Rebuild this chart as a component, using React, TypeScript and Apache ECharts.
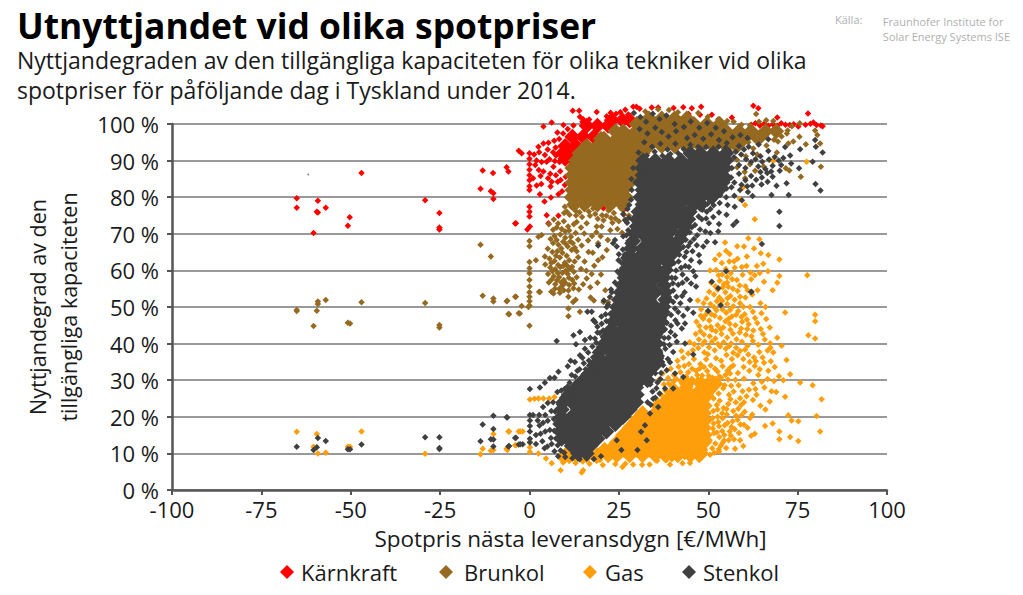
import React, { useEffect, useRef } from "react";
import * as echarts from "echarts";

type P = [number, number];
type Row = [number, number[]];

const seriesNames = ["Kärnkraft", "Brunkol", "Gas", "Stenkol"];
const xMin = -100, xMax = 100, xStep = 25;
const yMin = 0, yMax = 100, yStep = 10;

// Solid, overplotted parts of each cloud: [y, [x, x, ...]]
const karnkraftCore: Row[] = [
  [90.5, [10, 12]], [92, [9.3, 12]], [94, [10, 13]], [96.5, [12, 15, 18]],
  [99.5, [16, 19, 22]], [101, [23, 26, 28]],
];
const brunkolCore: Row[] = [
  [78, [12.5, 15.4, 19, 22.6, 26]], [80, [11.8, 13.6, 17.2, 20.8, 24.4, 27]],
  [82, [12, 15.4, 19, 22.6, 26.2]], [84, [12, 13.6, 17.2, 20.8, 24.4, 28]],
  [86, [12, 15.4, 19, 22.6, 26.2, 30]], [88, [12, 13.6, 17.2, 20.8, 24.4, 28]],
  [90, [13, 15.4, 19, 22.6, 26.2, 29.8]], [92, [14, 17.2, 20.8, 24.4, 28, 31.6]],
  [94, [16, 19, 22.6, 26.2, 29.8, 33.4, 37, 40.6, 44.2, 47.8, 51.4, 55, 58]],
  [96, [20, 20.8, 24.4, 28, 31.6, 35.2, 38.8, 42.4, 46, 49.6, 53.2, 56.8, 60, 64]],
  [98, [24, 26.2, 29.8, 33.4, 37, 40.6, 44.2, 47.8, 51.4, 55, 58.6, 62, 66, 69]],
  [100, [30, 31.6, 35.2, 38.8, 42.4, 46, 49.6, 53.2]],
  [101.5, [33.4, 37, 40.6, 44]],
];
const gasCore: Row[] = [
  [9.5, [10, 13, 16, 19, 22, 24.4, 28, 31.6, 35.2, 38, 41.5, 45, 47.5]],
  [11, [21, 22.6, 26.2, 29.8, 33.4, 37, 40.6, 44.2, 47.8]],
  [13, [24.4, 28, 31.6, 35.2, 38.8, 42.4, 46, 48.8]],
  [15, [26.2, 29.8, 33.4, 37, 40.6, 44.2, 47.8, 49]],
  [17, [28, 31.6, 35.2, 38.8, 42.4, 46, 48.8]],
  [19, [29.8, 33.4, 37, 40.6, 44.2, 47.8, 49]],
  [21, [31.6, 35.2, 38.8, 42.4, 46, 48.8]],
  [23, [36, 37, 40.6, 44.2, 47.8, 49]],
  [25, [38.8, 42.4, 46, 48.8]],
  [27, [40.6, 44.2, 47.8, 50]],
  [29, [44, 48, 52]],
];
const stenkolCore: Row[] = [
  [10, [13.6, 16]], [12, [11.8, 15.4, 17]], [14, [9, 10.6, 13.6, 17.2, 19]],
  [16, [8.6, 11.8, 15.4, 19, 21.5]], [18, [8.6, 10, 13.6, 17.2, 20.8, 24]],
  [20, [9, 11.8, 15.4, 19, 22.6, 26.2]], [22, [9, 13.6, 17.2, 20.8, 24.4, 28]],
  [24, [9.5, 11.8, 15.4, 19, 22.6, 26.2, 29.8]], [26, [11, 13.6, 17.2, 20.8, 24.4, 28, 30]],
  [28, [13, 15.4, 19, 22.6, 26.2, 29.8]], [30, [15, 17.2, 20.8, 24.4, 28, 31, 33]],
  [32, [17, 19, 22.6, 26.2, 29.8, 33]], [34, [18, 20.8, 24.4, 28, 31.6, 35]],
  [36, [19.5, 22.6, 26.2, 29.8, 33.4, 35.5]], [38, [20, 22.5, 24.4, 28, 31.6, 35.2]],
  [40, [21, 23, 26.2, 29.8, 33.4, 35.5]], [42, [22, 24.4, 28, 31.6, 35.2]],
  [44, [23, 26.2, 29.8, 33.4, 36.5]], [46, [23.5, 25.5, 28, 31.6, 35.2, 36.8]],
  [48, [24, 26.2, 29.8, 33.4, 37]], [50, [24.5, 26, 28, 31.6, 35.2, 37.4]],
  [52, [25, 26.2, 29.8, 33.4, 38]], [54, [25.5, 28, 31.6, 35.2, 38]],
  [56, [26, 29.8, 33.4, 37.5]], [58, [26.6, 28, 31.6, 35.2, 37.5]],
  [60, [27, 29.8, 33.4, 36, 38]], [62, [27.6, 29, 31.6, 35.2, 38.8]],
  [64, [28, 31, 33.4, 37, 39.4]], [66, [28.4, 31.6, 35.2, 38, 41]],
  [68, [29, 33.4, 37, 39, 41.5]], [70, [29.4, 31.6, 35.2, 38.8, 42.4]],
  [72, [30, 33.4, 37, 40, 43.5]], [74, [30, 31.6, 35.2, 38.8, 42, 44.4]],
  [76, [30.5, 33.4, 37, 40, 43, 44.8]], [78, [31.6, 35.2, 38.8, 42, 46, 48]],
  [80, [31, 33.4, 37, 40.6, 44, 48, 51]], [82, [31.6, 35.2, 38.8, 42.4, 46, 49.6, 53]],
  [84, [31, 33.4, 37, 40.6, 44.2, 47.8, 51.4, 54]], [86, [31.6, 35.2, 38.8, 42.4, 46, 49.6, 53.2, 54]],
  [88, [31.5, 33.4, 37, 40.6, 44.2, 47.8, 51.4, 54.5]], [90, [31.8, 35.2, 38.8, 42.4, 46, 49.6, 53.2, 55]],
  [92, [45, 47.8, 51.4, 55]],
];

// Individually readable points: [x, y]
const karnkraft: P[] = [
  [-65.1,79.7],[-65.1,77.1],[-59.2,79],[-59.5,76],[-59.2,75.8],[-57,77.1],[-60.4,70.2],[-50.3,74.5],[-50.8,72.2],[-47,86.6],
  [-29.2,79.2],[-25.2,75.7],[-25.2,71.7],[-25.2,71.2],[-13.1,87.3],[-10.2,86.6],[-13.7,82.3],[-10.8,81.6],[-10.1,81.1],[-10.1,79.5],
  [-6.4,88.2],[-5.9,87],[-4,72.8],[-3,92.7],[-2.2,92],[0,92],[0,90.5],[0,89],[0,87.5],[0,86],[0,84.6],[0,83],[0,82],[0,77.4],[0,76],[0,74.7],
  [-0.6,71.2],[0.1,72],[-3.8,72.9],[3.9,99.3],[6.2,100.4],[9.5,99.7],[2.5,93.8],[3.9,94.7],[5.3,94.9],[7.8,97.7],[12.1,103.6],[13.9,103.6],
  [14.1,102],[15,101.3],[18.8,103.3],[2,90],[1.6,88.8],[4.3,91.5],[4.8,89.7],[6.7,88.3],[3.9,87],[3.1,85.8],[2,83.2],[5.9,82.9],[8.7,84.7],[9.9,83.3],
  [2.9,80.8],[4.2,78.8],[8.1,80.8],[4.8,75.1],[5.3,72.9],[8.1,74.9],[20.7,77],[26.3,76.5],[5.8,86.4],[7.4,86],[8.6,87.1],[5.6,90.4],[6.6,92.3],[7.3,93.6],
  [5.1,93],[6.9,95.4],[8.3,95.9],[9.4,97.4],[10.7,98.6],[12.3,99.6],[14.8,100.6],[16.7,101.2],[24.2,102.8],[25.4,103.2],[26.8,103.9],[27.6,102.6],[21.6,102.1],[22.7,103.1],
  [29,104.7],[29.9,104.7],[30.8,104.2],[34.2,104.5],[36,104.5],[40.3,104.4],[43,104.6],[45.4,104.3],[48,104.7],[47.7,102.5],[44.5,102.7],[51,102.5],[56.6,101.8],
  [62.6,105],[64,104.3],[69.3,101.8],[77.9,102.9],[62,99.8],[63.2,100.2],[64.4,99.6],[65.6,100],[66.8,99.5],[68.1,99.9],[69.3,99.5],[70.4,100.2],[71.6,99.8],[72.8,99.7],[73.9,99.9],
  [75.2,99.3],[77.2,99.8],[78.6,100.1],[79.4,100.4],[80.3,99.7],[81.5,99.6],[82,99.4],
  [1,85.2],[1.3,91.7],[2.7,92.3],[3.4,89.6],[2.6,87.4],[5.2,85.2],[6.2,84.2],[7.1,89.9],[7.9,84.2],[9.1,81.6],[10.1,85.6],[6,79.9],[3.3,83.6],[7.4,91.4],[8.4,89.6],
];
const brunkol: P[] = [
  [-65.1,49.2],[-65.1,48.9],[-59.2,51.5],[-59.2,50.8],[-57,51.9],[-59.5,49],[-60.4,44.8],[-50.8,45.7],[-50.2,45.5],[-47,51.3],[-29.2,51.1],[-25.2,45.1],[-25.2,44.4],
  [-13.7,67],[-10.8,63.8],[-13.1,53.1],[-10.1,52.3],[-10.1,51.5],[-6.4,51.6],[-4,52.8],[-5.9,48.1],[-3,48.3],[-6.2,51.7],[-3.8,52.8],[-2.2,50.3],[-0.3,50],[-5.7,48],[-2.7,48.2],[0,44.9],
  [0,68],[0,66.6],[0,62.3],[0,60.6],[0,59.2],[0,57.4],[0,55.6],[0,54],[0,52.8],[0,51.6],[0,50.4],[2.5,69.2],[3.4,69.7],[1.8,62.8],[2.7,54.2],[2.9,54.1],[6.7,53.7],[8.5,53.9],[10.9,52.8],
  [12.2,51.4],[12.9,52],[17.1,52.6],[18,51.8],[20.7,51.4],[22,51.4],[10.9,49.6],[10.9,47.5],[14.1,48.7],[17.9,46.4],
  [5.4,72.6],[6.6,71.1],[8,72.8],[9.6,73.4],[10.8,72],[12.4,72.6],[7,69.4],[8.6,69.8],[10,70.6],[11.6,69.2],[6.6,67.5],[8.1,67],[9.4,67.8],[10.7,66.5],[12.1,67.4],[13.6,68.4],
  [5.1,65.9],[6.4,65],[7.8,65.2],[9.2,64.8],[10.4,64],[11.8,65.6],[13.2,65.2],[4.3,63.8],[5.6,63.2],[7,62.6],[8.5,63.5],[9.9,62.1],[11.1,62.8],[12.6,62.4],[4.4,61.6],[5.8,60.8],[7.2,60.3],
  [8.6,60.9],[10.1,59.9],[11.3,60.4],[12.4,59.6],[5.2,59],[6.8,58.4],[8.3,58.1],[9.6,57.4],[11,58],[5.4,56.7],[7.2,56.2],[9.2,55.8],[11.1,56],[6.1,54.2],[8.3,55],[12.3,55.1],
  [16,72.9],[18.8,72],[20.2,72],[24,74.2],[21.6,65.6],[19.2,67.4],[16.5,65],[18.1,61.3],[16,57.8],[20,58.9],[14.4,71.7],[15.3,70.1],[17.5,69.4],[14.6,66.8],[17.7,64.8],[15.4,62.4],[14.4,60.4],
  [11.2,75.2],[13,75],[14.7,74.6],[16.6,76.1],[18.4,75.4],[20.3,75.1],[22.1,76.4],[23.6,75.7],[25.5,77],[27.2,77.7],[27.8,75],[9.7,75.7],[9.9,77.4],[23.2,73],
  [63.4,102.7],[79.9,98.2],[80.5,97],[81.3,94.7],[77.3,94.5],[75.5,96.5],[75.6,100.2],[73.8,95.2],[72.4,94.7],[69.1,97.4],[69.5,95.2],[81.5,88.3],[75.9,85.6],[71.7,87.9],[72.7,87.3],[60.3,85.2],
  [56,87.9],[54.7,91.5],[60.5,91.2],[58,90.2],[61.7,89],[63.7,91.7],[66.3,94.1],[68.4,95.7],[70.5,96.6],[72,97.4],[73.4,99.4],[72.2,98.2],[57.8,93.4],[61.2,95],[64.1,96.2],[62.6,93.3],
  [58.1,88.2],[60.2,86.9],[63.1,87.2],[65.5,88.4],[67.1,90.2],[69.2,92.2],[52.8,101.3],[55.3,100.8],[57.1,100.6],[59.3,99.8],[61.7,99.6],[64.2,100.6],[66.2,101],[68.2,100.8],[49.9,102],[47.2,103],[41.5,103.2],[39,103.8],[36,104],[32.4,103.4],
  [10.4,76.1],[11.7,77.3],[12.9,76.3],[14,75.9],[15.2,77],[16.9,74.9],[17.8,76.9],[19.1,74.1],[20.7,73.7],[21.5,74.9],[22.8,74.3],[25,73.4],[26.4,75.2],[26.9,73.6],[6.8,73.9],[7.6,71.7],[9,71.3],[10,68.9],[11.1,70.9],[12.9,70.2],[13.2,73.2],
  [7.6,68.3],[8.9,66],[10.2,67.2],[11.4,67.9],[12.7,66.2],[5.9,68.6],[6.1,62],[7.4,64],[8,61.5],[9.4,61.2],[10.6,61.2],[11.9,61],[13.6,63.6],[6.4,59.8],[7.9,59.3],[9.2,59.3],[10.7,59],[12,57.4],[13.2,58.1],[6.2,57.5],[7.7,57.3],[8.9,56.7],[10,56.6],[12.5,56.4],[7.1,55],[9.6,54.6],[10.9,54.5],[13.8,54.8],[15,56.2],[17,55.4],[15.9,59.9],[17.4,59],[19,56.6],[21.2,54.6],[19.2,62.8],[20.4,63.6],[16.4,68.2],[18.7,70.4],[19.9,69.3],[21.9,68.3],[22.6,71],[24.6,71.3],[25.9,70.3],
];
const gas: P[] = [
  [-65.1,15.9],[-59.5,15.3],[-60.4,11.8],[-59.2,10],[-57,10.2],[-50.8,11.8],[-50.2,11.8],[-47,16],[-29.2,9.9],[-13.7,9.8],[-13.1,11.3],[-10.1,15.3],[-10.8,10.7],[-10.1,10.9],
  [-6.4,11.3],[-5.9,16],[-4,12.2],[-3,16],[-5.7,16],[-2.6,16],[-1.9,16],[-6.2,10.9],[-3.8,12.2],[0.1,10.4],[0.1,11.7],[0.1,13.1],[2.5,10],[4.6,8.6],[6.2,7.3],[8.7,5.4],[14.6,4.8],[15,5.4],[26,6.3],[39.3,7],[42.8,7.3],[44.9,7.4],
  [0.1,24.7],[2.5,25],[3.9,25],[5.5,25],[7,25.4],[10,25],[1.4,24.9],[8.7,8.6],[9.4,7.5],[10.3,9],[11.1,7.9],[12,8.6],[12.9,7.4],[13.8,9],[14.9,7.8],[15.8,8.4],[16.8,7.2],[17.7,8.7],[18.8,7.9],[19.7,8.2],[20.5,6.8],
  [24,7.1],[26.8,7.2],[29,7],[31.5,6.9],[33.6,7],[35.7,8],[38.2,8.1],[39.8,8.4],[41.3,8.5],[43.4,9],[45.5,8.8],[47.1,9.5],[49.2,10.1],[50.5,9.6],[51.7,10.2],[53,10.5],
  [51.5,25],[52.4,23.2],[53.2,24.4],[54.3,22.4],[55.6,23.5],[57,21.6],[58.4,22.2],[59.3,20.4],[60.2,21.4],[61.7,19.7],[62.3,20.6],[51.4,21.6],[52.6,20],[54,19.6],[55.2,20.6],[56.8,18.8],[58.2,19.2],[60,17.8],[61,17],
  [51.5,18.2],[53,17.4],[54.6,17.7],[56,16],[57.4,16.6],[58.6,15.6],[51.6,15.6],[53.1,14.5],[54.5,15],[55.7,13.6],[57.2,13.9],[58.9,13.6],[57.5,11.3],[52,12.7],[53.5,12.1],[55,11.5],[63,15.4],[62,14.8],[59.8,12],[50.4,13.6],
  [48.4,26.4],[49.8,28.3],[51.2,27.2],[52.7,29],[54.2,27.8],[55.5,30.2],[57.1,26.9],[58.5,28.6],[60,30.4],[61.4,27.4],[62.6,29.2],[64,31.4],[65.7,28],[67.7,27],[69,26.8],[71.5,25.5],[71,30],[72.9,31.6],[75.7,29.4],[79.2,28.6],[81.7,24.8],
  [38,27.2],[39.6,28.4],[41,27],[42.2,29.8],[43.6,26.6],[45,28.2],[46.5,27.4],[47.1,30.2],[38.8,30.6],[40.4,31.4],[42.2,32.2],[43.8,31],[45.4,30.4],[46.6,32.6],[48.3,31.3],[49.7,32.5],[51.2,30.7],[52.6,32.4],[54,33.8],[55.4,32.6],
  [57,34],[58.3,32],[59.9,33.6],[61.5,32.6],[63,33.9],[64.4,33],[65.6,34.8],[66.8,32.6],[67.5,35.2],[44.6,34.4],[46,35.8],[47.8,34.4],[49.4,35.7],[50.7,34],[52.2,36],[53.6,35.3],[55.1,36.9],[56.6,35.8],[58.2,36.8],[59.8,35.8],[61.2,37],[62.8,36.2],[64.3,37.7],
  [45.7,38.2],[47.2,38.8],[48.9,37.6],[50.2,39],[51.8,38.2],[53.3,39.2],[54.9,38.6],[56.4,40],[57.8,38.9],[59.4,40.5],[61,39.4],[62.5,40.7],[64,39.7],[65.8,41.1],[67.3,40.1],[69.3,41.6],[70.5,39.4],[71.9,35.5],[47.4,41.1],[49,40.6],[50.4,42],[52,41.4],[53.7,42.6],[55.3,41.7],
  [56.9,42.7],[58.8,43],[60.5,42.4],[62.6,43.6],[64.7,44],[78,42.3],[79.9,41.4],[79.9,46.1],[79.9,47.9],[71.5,48.5],[47.8,43.4],[49.4,44.4],[51,43.8],[52.6,45],[54.2,44.4],[56,45.4],[57.6,45],[59.5,46],[61.3,45.3],[63.1,47],
  [46.7,46],[48.6,46.8],[50.3,46.3],[51.8,47.6],[53.3,47],[55,48.4],[56.6,47.4],[58.4,48.9],[60.2,48],[48,49.4],[49.8,48.9],[51.6,50],[53.4,50.6],[55.3,50.8],[57,50.2],[58.9,51],[60.4,52.6],[47.1,51.8],[49.5,52.3],[51.6,53.4],[53.1,52.6],[54.8,54],
  [56.2,53],[58.2,54.4],[60.4,55.7],[62.3,53.4],[63.8,54.6],[64.6,51],[61.7,50],[52,55.7],[53.2,57.2],[54.4,56.3],[55.3,58.2],[52.9,58.7],[50.5,60],[53.8,62],[54.7,67.6],[59.8,82.7],[60.3,77.9],[58.9,79.5],[63,74],[68.2,89.9],[77.5,89.7],[61.2,68.8],[64.3,68.5],
  [56,64.5],[58.2,63.2],[60.8,63.8],[64.7,64.7],[66.8,64.2],[69.9,63],[69.9,58.5],[69.3,56.6],[77.7,58.7],[68,54.6],[57.4,60.7],[59.4,60.9],[61.8,59.4],[63.6,61.2],[65.4,61.8],[62.8,66],[60,66.5],[58,57.4],[62,57.6],
  [72.4,20.4],[73.3,19],[75.2,18.8],[80.3,20.2],[65.9,17.5],[68,18.2],[69.9,16],[81.3,16],[69.9,13.9],[72.9,14.5],[75.2,13.4],[63.5,26],[66,22],[67.2,24.2],[64.6,23],[62.5,24.6],[60,24],
  [36.8,26.1],[37.6,28.9],[39.1,26.3],[40.3,29.6],[41.4,25.8],[42.7,28],[43.9,29.3],[44.8,26.5],[45.9,29.9],[47,25.6],[47.9,28.7],[49,26],[49.9,30.1],[50.7,25.9],[51.8,28.9],[52.9,26.4],[53.6,30.7],[54.6,28.6],[55.8,26],[56.4,28.5],
  [36.3,30.2],[37.2,31.8],[38.9,29.1],[39.5,33.1],[41,30.4],[41.7,33.7],[43.1,30.1],[43.3,33.9],[44.4,32.2],[45.5,33.1],[46.9,31.4],[47.6,33.2],[48.7,29.7],[48.8,33.6],[50.1,31.2],[50.9,29.4],[51.9,33.1],[53.1,31],[54.8,31.4],[56.1,31.8],[57.6,30.1],
  [52.6,22],[53.9,21],[55.1,22.1],[56.2,24.8],[57.7,24],[58.9,25.1],[59.2,23.2],[60.7,25.6],[51.2,19.7],[52.8,18.6],[53.9,16.1],[55.4,18.3],[56.5,17.2],[57.8,20.3],[59,17.9],[51.3,16.8],[52.4,15.7],[54.4,13.5],[56.3,14.9],[52.9,11.1],[54,12.9],[51.1,11.4],
  [41.4,35.3],[43,36.1],[42.5,38],[44.4,37.3],[46.1,39.8],[44.8,40.4],[46.5,42.6],[48.4,39.8],[49.9,37.1],[51,40.5],[52.7,39.9],[54.3,40.4],[55.8,39.3],[57,37.5],[58.9,38],[60.3,38.3],[61.6,35],[63.3,35.2],[65.2,36.2],[66.6,38.1],[68.2,37.6],[48.8,42.5],[50.7,44.6],[52.1,43.4],[53.5,44],[54.8,46.1],
  [56.2,43.8],[57.9,41.2],[59.2,44.1],[60.9,44],[62.1,42],[63.7,45.6],[65.3,42.6],[49.2,47.8],[50.9,48],[52.3,49.1],[54,49.3],[55.7,46.8],[56.1,49.2],[57.8,47.9],[59.3,47.3],[60.8,46.6],[62.5,48.7],[47.9,47.6],[47.5,44.8],[48.7,51],[50.6,50.8],[52.4,51.6],[53.9,51.7],[55.4,52.4],[57.4,52],[58.9,52.8],[59.8,50.1],[61,54.6],
  [50.3,54.2],[52.6,54.7],[54,55.3],[55.6,55.5],[56.9,55],[58.8,55.9],[50.8,56.6],[53.9,58.9],[55.3,56.7],[56.7,57.6],[52.2,60.1],[54.9,60.4],[56.3,59.2],[55.9,62.4],[57.2,62.5],[53.1,64.3],[55,65.3],[51.9,63],[58.1,66.6],[59.6,58.8],[60.7,61.2],[63,58.7],[65.6,56.9],[64.4,59.3],[66.7,59.8],
  [67.2,44.4],[66.2,46.7],[64.9,48.3],[66,50],[67.4,38.9],[68.6,33.6],[69.8,31.1],[68.4,29.8],[66.6,30.3],[65,29.6],[63.2,27.6],[59.6,27],[56.2,33.5],
];
const stenkol: P[] = [
  [-65.1,11.8],[-60.4,10.9],[-59.5,11.7],[-59.2,14.2],[-57,13.4],[-50.8,11.1],[-50.2,11.1],[-47,12.4],[-29.2,14.4],[-25.2,14.4],[-25.2,11.5],[-25.2,11.2],[-13.7,13.3],[-13.1,17.9],[-10.8,13.9],[-10.1,13.8],
  [-10.1,20.3],[-10.1,16.7],[-10.1,11.9],[-6.4,19.9],[-5.9,11.9],[-4,14.2],[-3,12.4],[-6.2,19.8],[0.1,27.6],[2.9,28],[4.3,29.3],[5.7,30.6],[7,30.7],[8.1,32.3],[10.7,33.8],[11.5,35.3],[7.6,40.7],[12.3,42.3],[14.1,43.2],[13,39.8],
  [15.5,41],[18.3,41.4],[17.9,46.4],[16.2,48.7],[17.4,48.7],[14.1,36.8],[12.7,35],[0.1,20.5],[0.1,19],[0.1,17.5],[0.1,16],[0.1,14],[0.1,13],[1,20.5],[2.7,20.5],[-3.8,14.3],[-5.7,12],[-2.6,12.5],[-1.9,12.5],
  [1.8,15],[2.8,17.6],[3.6,13.3],[4.4,16],[5.1,18.9],[5,11.9],[6,14.2],[6.1,21.6],[6.8,19.4],[6.6,24],[7.8,26.8],[7,10.6],[8,9.2],[9.8,27.6],[11.2,29.3],[12.8,31],[14,33],[15.2,34.6],[16.4,37.6],[17.6,39.2],[19,43],[20.2,45.4],[21.3,48],[22,50.7],
  [13.7,28],[12.9,26.4],[10,9],[12,8.7],[14,8.4],[16,8.6],[18,8.5],[20,9.2],[19.4,39],[20.5,41.8],[20,36.4],
  [25.7,10.9],[30.2,10.9],[32.8,13.6],[31.2,15.9],[24.4,13.6],[32.3,17.7],[33.7,20.9],[36,22.7],[40.2,27.7],[37.9,27.7],[43,30.9],[40.7,31.8],[38.4,32.7],[37.4,34.1],[45.8,37],[40.2,37.7],[43.5,40],[41.2,40.5],[39.5,43.2],[41.4,45.5],[43.5,45.5],[42.6,44.1],[45.8,48.4],[50,48.9],[53.5,50.5],[44.9,51.9],[62,54.1],
  [35.2,25.2],[35.5,27.8],[36.6,30.3],[37,36.6],[38,38.6],[37.7,41.5],[38.4,45.6],[39.6,47.8],[40.7,49.6],[42.2,51],[38.6,50.2],[39,52.7],[40.2,54.5],[41.6,56.1],[43.4,54],[45.2,56.4],[39.8,58],[41,60],[42.8,58.9],[44.6,60.9],[46.4,58.4],[41.7,62.4],
  [43.4,63.7],[45.2,62.8],[47.4,64.2],[46.8,66.9],[48.6,66.5],[43,66.4],[45,67.6],[42.6,69],[44.8,70.4],[46.9,69.6],[44.3,73],[46.3,72.4],[48.2,74],[50.2,72.9],[45.8,75.8],[47.6,77],[49.6,76],[51.5,77.8],[46.4,78.8],[48.4,80],[50.2,79.6],[52.3,80.8],[54,82.4],
  [55,80],[56.5,82.7],[57.9,73.3],[57,72.4],[52.8,70.6],[51.9,67.7],[65,67.2],[55,59.8],[51,56.9],[62.1,54.2],[52.8,55.1],[81.4,81.8],[80,83.6],[79.2,89.7],[82,92.2],[80.1,93.8],[79.9,95.6],[75.4,87.9],[75.7,93.1],[71.9,83.8],[69.1,83.1],[64.9,83.5],[62.4,80.3],[67.7,80.6],[72.5,80.6],[69.9,76],[69.9,72.1],
  [55.8,85],[57.3,84],[58.6,86.4],[60.4,84.6],[62,85.8],[63.4,84.8],[65,85.4],[66.5,86.6],[68,85.6],[56.6,88],[58.6,88.8],[60.4,88],[62,89.6],[64,88.4],[66,87.7],[68,88.6],[57.2,90.9],[59.2,91.7],[60.6,90.4],[62.5,92],[64.6,91.2],[66.8,92.6],[68.6,91],[71,90.7],[72.9,91.4],[71.5,93.7],[73.2,89.2],[70.4,88.8],[58.6,94],[61.3,93.8],[64.1,94.4],[66.8,95.8],
  [29.2,103],[31,101.9],[32.6,100.6],[34.5,102.8],[36.4,101.4],[38.3,102.3],[40.6,100],[30.8,98.6],[33,97.4],[35.2,99],[37,97.8],[38.9,96.6],[41,98],[43.2,99.2],[45.1,100.7],[47.5,99],[49.7,100.3],[52.1,99],[54.4,98],[56.8,96.4],[59,97],[61,96.2],[44.1,96.2],[46.2,97],[48.6,96],[50.8,97.2],[53,95.6],[55.2,94.8],[32.1,95],[34.3,93.8],[36.6,94.6],[38.6,93],[40.8,94.6],[43.1,93.2],[45,94.3],[47.2,93.8],[49.4,93.7],[30.5,92.2],[32.8,91.4],[35,92.4],[37.2,91.3],[39.4,91.8],[41.6,92],
  [26.7,73.8],[27.6,71],[23.9,68.3],[23.4,67.4],[24.4,66.5],[25.8,62],[25.4,58.9],[19.2,66.8],[27.4,67.4],[26.7,64.4],[27.4,76.8],[28.4,79.3],[28.6,82],[28.5,85],[29,88],[26.2,69.3],[24.8,55.8],[23,54],[24.3,52],[22.5,52.7],[25.6,53.6],
  [8.2,23.4],[9.1,25.2],[10.1,26.3],[11,24.4],[8.9,27.2],[10.6,28.2],[12.1,27.8],[13,29.4],[14.1,30.3],[15.1,31.6],[11.8,31.4],[13.4,32.6],[15.7,33],[17,33.6],[16.6,35.4],[14.8,36.1],[17.8,36.3],[18.3,37.6],[15.5,38.6],[17,41.6],[18.7,40.2],[19.7,42.9],[19,44.6],[20.6,43.6],[18.4,45.8],[20.1,47.4],[21.5,46.2],[22.4,44.4],[21.4,42.7],[21,39.9],[19.5,37.6],[20.2,34.2],[18.2,33.5],[19,31.2],[17.3,30.7],[15.4,29.4],[14,27.4],[12,25.8],[9.4,22.3],[7.2,21.4],[7.7,18.6],[6.9,16.2],[7.4,14.1],[7.9,12.2],[8.7,10.8],[9.7,10.2],[5.1,23.8],[3.8,22.7],[4.4,20.5],[2.3,19],[3.8,18.4],[3.1,15.4],[1.8,12.6],[4.2,11.4],[5.7,16.4],[6.2,12.6],
  [21.6,50],[20.8,51.8],[22.7,48.2],[23.3,49.9],[23.9,46.6],[22.8,54.8],[23.9,56.7],[24.6,59.7],[25.9,60.6],[26.2,63.4],[26.1,65.7],[24.9,62.8],[25,64.4],[27.1,69.6],[27.3,73],[26.2,75.4],[27.8,74.4],[27.9,77.9],
  [33.9,23.3],[34.6,24.9],[33,24],[34.4,26.9],[33.8,28.9],[36.4,26.4],[35.8,29.4],[35.2,31.9],[36.8,32],[35.8,34.2],[37.1,35],[38.7,35.8],[39.3,34.9],[36.6,37.4],[39.2,39.6],[37.6,39.8],[38.9,41.6],[40.7,42.2],[36.6,42.7],[37.8,43.8],[39.6,44.9],[40.8,46.4],[37.6,47],[38.6,48.6],[41.6,48.6],[43,47.6],[44.2,49.5],[37.4,50.6],[40.2,51.4],[41.1,52.8],[42.7,53],[38,53.6],[38.9,55.8],[40.1,56.5],[42.8,56.6],[44,57.6],[38.6,58.2],[40.8,57.9],[39.4,60.2],[42.4,60.7],[43.6,61.2],[40.4,62],[38.8,62.7],[40.2,63.9],[41.9,64.3],[43.9,65],[45.6,65.2],[40.2,65.9],[41.4,66.6],[44.4,66.6],[41.2,68.4],[43.7,68.4],[46,68.6],[41.2,70.3],[43.4,70.9],[42.4,72.3],[45.4,71.8],[47.7,71.2],[49.2,70.6],[41.2,73.5],[43,74.6],[44.8,75],[47.3,74.7],[49.4,74.2],[51.4,74.6],[42.4,76],[44,76.9],[45.8,77.6],[48.4,76.6],[50.6,76.8],[53,75.8],[44.4,78.4],[47.6,78.9],[49.8,78.2],[51.7,79.4],[53.2,78.4],[55.4,77.9],[46.4,80.6],[47.6,80.7],[49.6,81.6],[51.6,82.4],[53.4,80.6],[55.1,82.4],[57.3,80.4],[58.9,82],[49.8,83.4],[52.4,83.6],[54.6,84],[56.4,85.4],[59.3,83.4],[60.9,83],[61.1,81.4],[54.2,86.4],[55.2,87.2],[54.6,89.2],[55.6,90.6],[56,92.6],[54.9,93.6],[52.9,93.8],[57.7,92.4],[60,93],[63.2,90.4],[65.1,89.7],[67,90.3],[69.7,90],[70,87.2],[67.6,87],[64.6,86.9],[66.6,84.2],[62.3,83.2],[59.4,79.2],[57.4,77.4],[55.1,75.2],[53,72.7],[50.6,70.2],[49.6,67.8],[47.6,62.3],[45.8,59.8],[46.6,55.6],
];
const stray: P[] = [[-61.9, 86.2]];

const flat = (rows: Row[]): P[] => rows.flatMap(([y, xs]) => xs.map((x) => [x, y] as P));

const colors = ["#ff0000", "#956a20", "#ff9e0b", "#404040"];
const uiFont = '"Open Sans", "Noto Sans", sans-serif';

export default function App() {
  const ref = useRef<HTMLDivElement>(null);
  useEffect(() => {
    document.body.style.margin = "0";
    const chart = echarts.init(ref.current!, undefined, { renderer: "svg" });
    const layer = (i: number, data: P[], size: number) => ({
      type: "scatter",
      name: seriesNames[i],
      data,
      symbol: "diamond",
      symbolSize: size,
      clip: false,
      silent: true,
      itemStyle: { color: colors[i], opacity: 1 },
    });
    const cores = [karnkraftCore, brunkolCore, gasCore, stenkolCore];
    const points = [karnkraft, brunkol, gas, stenkol];
    const series: any[] = [];
    cores.forEach((c, i) => {
      series.push(layer(i, flat(c), 16));
      series.push(layer(i, points[i], 6.5));
    });
    series.push({
      type: "scatter", data: stray, symbol: "circle", symbolSize: 2, silent: true,
      itemStyle: { color: "#777" },
    });
    const legendAt = [275, 434, 578, 677];
    const legendPad = [2, 6, 3, 2];
    chart.setOption({
      animation: false,
      backgroundColor: "#fff",
      textStyle: { fontFamily: uiFont },
      grid: { left: 172, right: 136, top: 124, bottom: 105 },
      xAxis: {
        type: "value", min: xMin, max: xMax, interval: xStep,
        name: "Spotpris nästa leveransdygn [€/MWh]",
        nameLocation: "middle", nameGap: 37,
        nameTextStyle: { fontSize: 22.5, color: "#1a1a1a", fontFamily: uiFont, padding: [0, 0, 0, 82] },
        axisLine: { onZero: false, lineStyle: { color: "#555", width: 2.5 } },
        axisTick: { length: 5, lineStyle: { color: "#555", width: 2 } },
        axisLabel: { fontSize: 22, lineHeight: 15, color: "#1a1a1a", margin: 11, fontFamily: uiFont },
        splitLine: { show: false },
      },
      yAxis: {
        type: "value", min: yMin, max: yMax, interval: yStep,
        name: "Nyttjandegrad av den\ntillgängliga kapaciteten",
        nameLocation: "middle", nameGap: 88, nameRotate: 90,
        nameTextStyle: { fontSize: 21.5, lineHeight: 31, color: "#1a1a1a", fontFamily: uiFont },
        axisLine: { show: true, onZero: false, lineStyle: { color: "#555", width: 2.5 } },
        axisTick: { show: true, length: 5, lineStyle: { color: "#555", width: 2 } },
        axisLabel: { fontSize: 22, lineHeight: 15, color: "#1a1a1a", margin: 13, formatter: "{value} %", fontFamily: uiFont },
        splitLine: { show: true, lineStyle: { color: "#999", width: 2 } },
      },
      legend: seriesNames.map((name, i) => ({
        data: [{ name, icon: "diamond" }],
        left: legendAt[i], top: 556, itemWidth: 14, itemHeight: 14,
        selectedMode: false,
        textStyle: { fontSize: 22, color: "#1a1a1a", fontFamily: uiFont, padding: [0, 0, 0, legendPad[i]] },
      })),
      graphic: [
        { type: "text", left: 17, top: 6, style: { text: "Utnyttjandet vid olika spotpriser", fontSize: 35.4, lineHeight: 38, fontWeight: 700, fill: "#000", fontFamily: uiFont } },
        { type: "text", left: 17, top: 45, style: { text: "Nyttjandegraden av den tillgängliga kapaciteten för olika tekniker vid olika\nspotpriser för påföljande dag i Tyskland under 2014.", fontSize: 23, lineHeight: 30, fill: "#1a1a1a", fontFamily: uiFont } },
        { type: "text", left: 835, top: 14, style: { text: "Källa:", fontSize: 11, fill: "#b0b0b0", fontFamily: uiFont } },
        { type: "text", right: 13, top: 14, style: { text: "Fraunhofer Institute for\nSolar Energy Systems ISE", fontSize: 11, lineHeight: 15, align: "right", fill: "#b0b0b0", fontFamily: uiFont } },
      ],
      series,
    });
    return () => chart.dispose();
  }, []);
  return <div ref={ref} style={{ width: 1023, height: 595 }} />;
}
